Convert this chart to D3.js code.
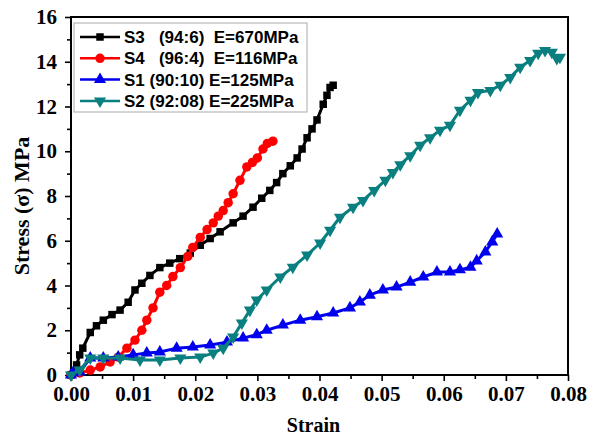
<!DOCTYPE html>
<html>
<head>
<meta charset="utf-8">
<script src="https://cdn.jsdelivr.net/npm/d3@7"></script>
<style>
  body { margin: 0; background: #fff; }
  svg { display: block; }
</style>
</head>
<body>
<div id="chart"></div>
<script>
// S3 (94:6)
var s3Strain = [0, 0.0009, 0.0014, 0.0019, 0.0031, 0.0041, 0.0052, 0.0066, 0.0079, 0.0092, 0.0103, 0.0114, 0.0127, 0.0143, 0.0159, 0.0175, 0.0192, 0.0208, 0.0224, 0.0240, 0.0261, 0.0277, 0.0293, 0.0307, 0.0320, 0.0331, 0.0341, 0.0353, 0.0364, 0.0372, 0.0380, 0.0388, 0.0396, 0.0406, 0.0412, 0.0417, 0.0422];
var s3Stress = [0, 0.45, 0.9, 1.2, 1.9, 2.2, 2.45, 2.7, 2.9, 3.25, 3.8, 4.1, 4.45, 4.8, 5.0, 5.2, 5.45, 5.8, 6.1, 6.4, 6.8, 7.1, 7.5, 7.9, 8.25, 8.6, 9.0, 9.35, 9.7, 10.1, 10.6, 11.0, 11.4, 12.1, 12.5, 12.85, 12.95];
// S4 (96:4)
var s4Strain = [0, 0.0014, 0.0031, 0.0047, 0.0063, 0.0076, 0.0090, 0.0103, 0.0114, 0.0122, 0.0132, 0.0143, 0.0154, 0.0164, 0.0176, 0.0188, 0.0196, 0.0208, 0.0219, 0.0229, 0.0237, 0.0245, 0.0253, 0.0261, 0.0272, 0.0283, 0.0292, 0.0300, 0.0309, 0.0316, 0.0325];
var s4Stress = [0, 0.09, 0.22, 0.36, 0.58, 0.8, 1.2, 1.56, 2.0, 2.45, 3.0, 3.7, 4.0, 4.4, 4.8, 5.3, 5.7, 6.15, 6.5, 6.8, 7.1, 7.35, 7.7, 8.1, 8.7, 9.3, 9.5, 9.7, 10.1, 10.35, 10.45];
// S1 (90:10)
var s1Strain = [0, 0.0003, 0.0014, 0.0031, 0.0052, 0.0076, 0.0100, 0.0122, 0.0143, 0.0170, 0.0196, 0.0224, 0.0251, 0.0277, 0.0299, 0.0315, 0.0341, 0.0369, 0.0396, 0.0422, 0.0449, 0.0465, 0.0481, 0.0502, 0.0524, 0.0546, 0.0567, 0.0589, 0.0610, 0.0626, 0.0643, 0.0653, 0.0667, 0.0678, 0.0686];
var s1Stress = [0, 0.09, 0.13, 0.76, 0.76, 0.8, 0.9, 0.98, 1.03, 1.2, 1.25, 1.34, 1.47, 1.65, 1.8, 2.0, 2.23, 2.45, 2.6, 2.77, 3.0, 3.26, 3.57, 3.8, 3.93, 4.15, 4.38, 4.6, 4.6, 4.7, 4.82, 5.1, 5.5, 5.95, 6.3];
// S2 (92:08)
var s2Strain = [0, 0.0014, 0.0031, 0.0052, 0.0079, 0.0111, 0.0143, 0.0176, 0.0208, 0.0229, 0.0245, 0.0261, 0.0275, 0.0288, 0.0299, 0.0315, 0.0337, 0.0357, 0.0380, 0.0401, 0.0417, 0.0433, 0.0454, 0.0470, 0.0488, 0.0506, 0.0518, 0.0530, 0.0546, 0.0562, 0.0578, 0.0594, 0.0610, 0.0626, 0.0643, 0.0655, 0.0675, 0.0691, 0.0707, 0.0723, 0.0739, 0.0752, 0.0763, 0.0774, 0.0782, 0.0787];
var s2Stress = [0, 0.22, 0.76, 0.76, 0.76, 0.67, 0.67, 0.76, 0.8, 0.98, 1.2, 1.7, 2.32, 2.9, 3.35, 3.8, 4.38, 4.82, 5.36, 5.9, 6.47, 7.05, 7.5, 7.8, 8.25, 8.7, 9.05, 9.4, 9.8, 10.27, 10.6, 10.94, 11.16, 11.83, 12.28, 12.63, 12.72, 12.95, 13.3, 13.75, 14.06, 14.38, 14.5, 14.42, 14.15, 14.2];

var seriesNames = ["S3   (94:6)  E=670MPa", "S4   (96:4)  E=116MPa", "S1 (90:10) E=125MPa", "S2 (92:08) E=225MPa"];
var xTicks = [0, 0.01, 0.02, 0.03, 0.04, 0.05, 0.06, 0.07, 0.08];
var yTicks = [0, 2, 4, 6, 8, 10, 12, 14, 16];

var W = 589, H = 437;
var margin = {left: 71, right: 21, top: 17, bottom: 62};

var series = [
  {name: seriesNames[0], x: s3Strain, y: s3Stress, color: "#000000", shape: d3.symbolSquare, size: 56, rot: 0},
  {name: seriesNames[1], x: s4Strain, y: s4Stress, color: "#ff0000", shape: d3.symbolCircle, size: 70, rot: 0},
  {name: seriesNames[2], x: s1Strain, y: s1Stress, color: "#0000ee", shape: d3.symbolTriangle, size: 64, rot: 0},
  {name: seriesNames[3], x: s2Strain, y: s2Stress, color: "#0a7f7f", shape: d3.symbolTriangle, size: 64, rot: 180}
];

var svg = d3.select("#chart").append("svg")
  .attr("width", W)
  .attr("height", H);

var x = d3.scaleLinear().domain([0, 0.08]).range([margin.left, W - margin.right]);
var y = d3.scaleLinear().domain([0, 16]).range([H - margin.bottom, margin.top]);

// minor ticks
var xMinor = d3.range(0.005, 0.08, 0.01);
var yMinor = d3.range(1, 16, 2);

svg.append("g")
  .attr("transform", "translate(0," + y(0) + ")")
  .call(d3.axisBottom(x).tickValues(xTicks).tickFormat(d3.format(".2f")).tickSize(6).tickPadding(5));
svg.append("g")
  .attr("transform", "translate(0," + y(0) + ")")
  .call(d3.axisBottom(x).tickValues(xMinor).tickFormat("").tickSize(4));

svg.append("g")
  .attr("class", "yax")
  .attr("transform", "translate(" + x(0) + ",0)")
  .call(d3.axisLeft(y).tickValues(yTicks).tickFormat(d3.format("d")).tickSize(6).tickPadding(8));
svg.append("g")
  .attr("transform", "translate(" + x(0) + ",0)")
  .call(d3.axisLeft(y).tickValues(yMinor).tickFormat("").tickSize(4));

svg.selectAll(".tick line").attr("stroke", "#000").attr("stroke-width", 1.6);
svg.selectAll(".domain").remove();
svg.selectAll(".tick text")
  .style("font-family", "'Liberation Serif', 'Times New Roman', serif")
  .style("font-weight", "bold")
  .style("font-size", "21px")
  .attr("fill", "#000");

// frame
svg.append("rect")
  .attr("x", x(0))
  .attr("y", y(16))
  .attr("width", x(0.08) - x(0))
  .attr("height", y(0) - y(16))
  .attr("fill", "none")
  .attr("stroke", "#000")
  .attr("stroke-width", 2);

// axis titles
svg.append("text")
  .attr("x", (x(0) + x(0.08)) / 2 - 6)
  .attr("y", 432)
  .attr("text-anchor", "middle")
  .style("font-family", "'Liberation Serif', 'Times New Roman', serif")
  .style("font-weight", "bold")
  .style("font-size", "20px")
  .text("Strain");

svg.append("text")
  .attr("transform", "translate(29," + (y(8) + 10) + ") rotate(-90)")
  .attr("text-anchor", "middle")
  .style("font-family", "'Liberation Serif', 'Times New Roman', serif")
  .style("font-weight", "bold")
  .style("font-size", "22px")
  .text("Stress (\u03c3) MPa");

// curves
var line = d3.line()
  .x(function(d) { return x(d[0]); })
  .y(function(d) { return y(d[1]); });

var plot = svg.append("g");

series.forEach(function(s) {
  var pts = s.x.map(function(v, i) { return [v, s.y[i]]; });
  plot.append("path")
    .datum(pts)
    .attr("d", line)
    .attr("fill", "none")
    .attr("stroke", s.color)
    .attr("stroke-width", 3)
    .attr("stroke-linejoin", "round");
  plot.selectAll(null)
    .data(pts)
    .enter()
    .append("path")
    .attr("d", d3.symbol().type(s.shape).size(s.size))
    .attr("transform", function(d) { return "translate(" + x(d[0]) + "," + y(d[1]) + ") rotate(" + s.rot + ")"; })
    .attr("fill", s.color);
});

// legend
var lg = svg.append("g").attr("transform", "translate(74,23)");
lg.append("rect")
  .attr("width", 233)
  .attr("height", 89)
  .attr("fill", "#fff")
  .attr("stroke", "#aaa")
  .attr("stroke-width", 1);

series.forEach(function(s, i) {
  var row = lg.append("g").attr("transform", "translate(0," + (14 + i * 21.3) + ")");
  row.append("line")
    .attr("x1", 6).attr("x2", 46)
    .attr("stroke", s.color)
    .attr("stroke-width", 2.5);
  row.append("path")
    .attr("d", d3.symbol().type(s.shape).size(s.size))
    .attr("transform", "translate(26,0) rotate(" + s.rot + ")")
    .attr("fill", s.color);
  row.append("text")
    .attr("x", 50)
    .attr("y", 6)
    .style("font-family", "'Liberation Sans', Arial, sans-serif")
    .style("font-weight", "bold")
    .style("font-size", "17px")
    .style("white-space", "pre")
    .attr("xml:space", "preserve")
    .text(s.name);
});
</script>
</body>
</html>
